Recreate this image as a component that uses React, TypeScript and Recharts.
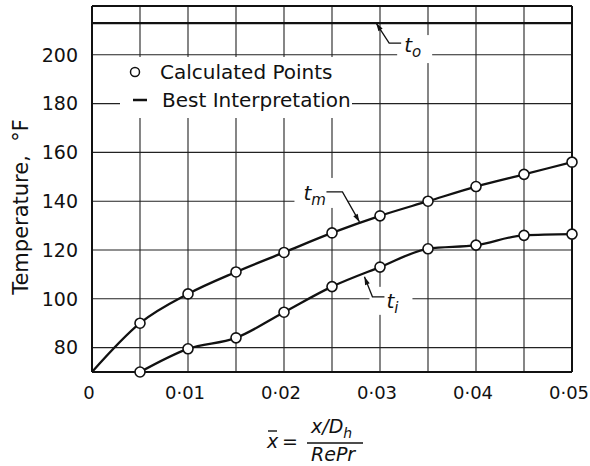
import {
  ComposedChart,
  Line,
  XAxis,
  YAxis,
  CartesianGrid,
  ReferenceLine,
  ReferenceDot,
  Legend,
} from "recharts";

// dimensionless distance x/Dh / RePr
const xValues = [0, 0.005, 0.01, 0.015, 0.02, 0.025, 0.03, 0.035, 0.04, 0.045, 0.05];
// mean temperature t_m (curve starts at the origin, no calculated point there)
const tmValues = [70, 90, 102, 111, 119, 127, 134, 140, 146, 151, 156];
// inner temperature t_i
const tiValues = [null, 70, 79.5, 84, 94.5, 105, 113, 120.5, 122, 126, 126.5];
// outer wall temperature t_o
const T_O = 213;

const xTicks = [0, 0.005, 0.01, 0.015, 0.02, 0.025, 0.03, 0.035, 0.04, 0.045, 0.05];
const yTicks = [80, 100, 120, 140, 160, 180, 200, 220];

const data = xValues.map((x, i) => ({ x, tm: tmValues[i], ti: tiValues[i] }));

const FONT = "'DejaVu Sans', sans-serif";
const INK = "#111";

function fmtX(v: number) {
  const i = Math.round(v / 0.005);
  if (i % 2 !== 0) return "";
  if (v === 0) return "0";
  return v.toFixed(2).replace(".", "\u00b7");
}

function fmtY(v: number) {
  return v === 220 ? "" : String(v);
}

function PointDot(props: any) {
  const { cx, cy, payload, index } = props;
  if (payload.x === 0 || cy == null) return <g key={`d-${index}`} />;
  return (
    <circle
      key={`d-${index}`}
      cx={cx}
      cy={cy}
      r={5}
      fill="#fff"
      stroke={INK}
      strokeWidth={1.6}
    />
  );
}

function arrowHead(tx: number, ty: number, fx: number, fy: number) {
  const dx = tx - fx;
  const dy = ty - fy;
  const len = Math.hypot(dx, dy) || 1;
  const ux = dx / len;
  const uy = dy / len;
  const bx = tx - ux * 8;
  const by = ty - uy * 8;
  const px = -uy * 2.5;
  const py = ux * 2.5;
  return `M${tx},${ty} L${bx + px},${by + py} L${bx - px},${by - py} Z`;
}

// leader with label: tip on the curve, bend, tail, label, white patch behind label
function leader(
  sub: string,
  bend: [number, number],
  tail: [number, number],
  text: [number, number],
  patch: [number, number, number, number]
) {
  return (props: any) => {
    const { cx, cy } = props;
    const bx = cx + bend[0];
    const by = cy + bend[1];
    return (
      <g>
        <rect
          x={cx + patch[0]}
          y={cy + patch[1]}
          width={patch[2]}
          height={patch[3]}
          fill="#fff"
        />
        <path
          d={`M${cx},${cy} L${bx},${by} L${cx + tail[0]},${cy + tail[1]}`}
          fill="none"
          stroke={INK}
          strokeWidth={1.3}
        />
        <path d={arrowHead(cx, cy, bx, by)} fill={INK} />
        <text
          x={cx + text[0]}
          y={cy + text[1]}
          fontFamily={FONT}
          fontStyle="italic"
          fontSize={20}
          fill={INK}
        >
          t
          <tspan fontSize={15} dy={5}>
            {sub}
          </tspan>
        </text>
      </g>
    );
  };
}

function LegendBox() {
  return (
    <div
      style={{
        background: "#fff",
        width: 232,
        height: 61,
        fontFamily: FONT,
        fontSize: 20,
        lineHeight: "24px",
        color: INK,
        position: "relative",
      }}
    >
      <svg width={30} height={61} style={{ position: "absolute", left: 0, top: 0 }}>
        <circle cx={15} cy={15} r={4.5} fill="#fff" stroke={INK} strokeWidth={1.5} />
        <line x1={13} x2={27} y1={43} y2={43} stroke={INK} strokeWidth={2.5} />
      </svg>
      <div style={{ position: "absolute", left: 40, top: 3, whiteSpace: "nowrap" }}>
        Calculated Points
      </div>
      <div style={{ position: "absolute", left: 42, top: 31, whiteSpace: "nowrap" }}>
        Best Interpretation
      </div>
    </div>
  );
}

function XLabel(props: any) {
  const { viewBox } = props;
  const x0 = viewBox.x;
  const y0 = viewBox.y;
  const ital = { fontFamily: FONT, fontStyle: "italic" as const, fill: INK };
  return (
    <g>
      <text x={x0 + 175} y={y0 + 76} fontSize={19} {...ital}>
        x
      </text>
      <line x1={x0 + 176} x2={x0 + 185} y1={y0 + 59} y2={y0 + 59} stroke={INK} strokeWidth={1.4} />
      <text x={x0 + 190} y={y0 + 76} fontSize={19} fontFamily={FONT} fill={INK}>
        =
      </text>
      <line x1={x0 + 215} x2={x0 + 271} y1={y0 + 71} y2={y0 + 71} stroke={INK} strokeWidth={1.6} />
      <text x={x0 + 219} y={y0 + 61} fontSize={19} {...ital}>
        x/D
        <tspan fontSize={14} dy={5}>
          h
        </tspan>
      </text>
      <text x={x0 + 219} y={y0 + 89} fontSize={19} {...ital}>
        RePr
      </text>
    </g>
  );
}

function YLabel(props: any) {
  const { viewBox } = props;
  const cx = 21;
  const cy = viewBox.y + viewBox.height / 2 + 18;
  return (
    <text
      x={cx}
      y={cy}
      transform={`rotate(-90, ${cx}, ${cy})`}
      textAnchor="middle"
      dominantBaseline="central"
      fontFamily={FONT}
      fontSize={21}
      fill={INK}
    >
      Temperature,&#160;&#160;°F
    </text>
  );
}

export default function App() {
  return (
    <div style={{ position: "absolute", left: 0, top: 0, background: "#fff" }}>
      <ComposedChart
        width={590}
        height={466}
        data={data}
        margin={{ top: 6, right: 18, left: 0, bottom: 0 }}
      >
        <CartesianGrid stroke="#222" strokeWidth={1.1} horizontal vertical />
        <XAxis
          dataKey="x"
          type="number"
          domain={[0, 0.05]}
          ticks={xTicks}
          tickFormatter={fmtX}
          interval={0}
          height={94}
          tickLine={false}
          tickSize={0}
          tickMargin={14}
          axisLine={{ stroke: INK, strokeWidth: 2 }}
          tick={{ fill: INK, fontSize: 18, fontFamily: FONT, dx: -3 }}
          label={<XLabel />}
        />
        <YAxis
          type="number"
          domain={[70, 220]}
          ticks={yTicks}
          tickFormatter={fmtY}
          interval={0}
          width={92}
          tickLine={false}
          tickSize={0}
          tickMargin={14}
          axisLine={{ stroke: INK, strokeWidth: 2 }}
          tick={{ fill: INK, fontSize: 19, fontFamily: FONT }}
          label={<YLabel />}
        />
        <ReferenceLine y={220} stroke={INK} strokeWidth={2} />
        <ReferenceLine x={0.05} stroke={INK} strokeWidth={2} />
        <ReferenceLine y={T_O} stroke={INK} strokeWidth={2.4} />
        <Legend
          layout="horizontal"
          verticalAlign="middle"
          align="center"
          content={<LegendBox />}
          wrapperStyle={{ left: 120, top: 57, width: 232, height: 61 }}
        />
        <ReferenceDot
          x={0.0296}
          y={T_O}
          r={0}
          shape={leader("o", [13, 20], [25, 20], [28, 29], [21, 12, 35, 28])}
        />
        <ReferenceDot
          x={0.02786}
          y={131.5}
          r={0}
          shape={leader("m", [-17, -30], [-33, -30], [-56, -22], [-65, -44, 53, 30])}
        />
        <ReferenceDot
          x={0.02838}
          y={109}
          r={0}
          shape={leader("i", [8, 20], [20, 20], [22, 31], [5, 10, 43, 28])}
        />
        <Line
          dataKey="tm"
          type="monotone"
          stroke={INK}
          strokeWidth={2.3}
          dot={PointDot}
          activeDot={false}
          isAnimationActive={false}
        />
        <Line
          dataKey="ti"
          type="monotone"
          stroke={INK}
          strokeWidth={2.3}
          dot={PointDot}
          activeDot={false}
          connectNulls={false}
          isAnimationActive={false}
        />
      </ComposedChart>
    </div>
  );
}
